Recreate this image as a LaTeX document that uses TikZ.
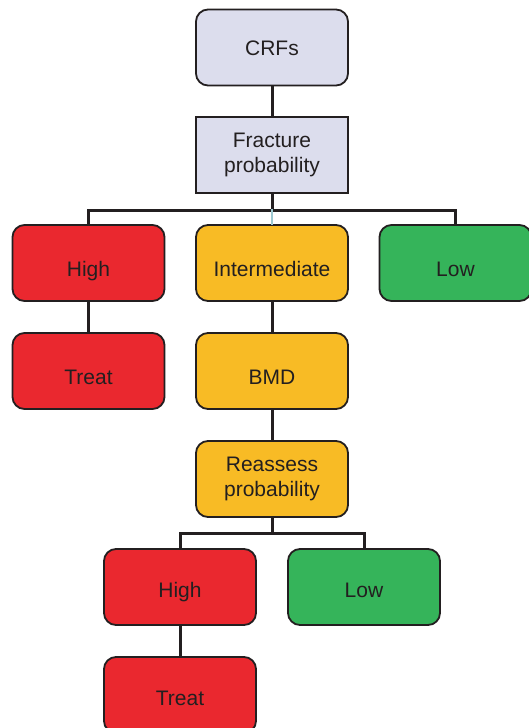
\documentclass[tikz,border=0pt]{standalone}
\usepackage{fontspec}
\setmainfont{Liberation Sans}
\definecolor{ink}{HTML}{231F20}
\definecolor{lav}{HTML}{DCDDED}
\definecolor{redbox}{HTML}{EA282F}
\definecolor{ambbox}{HTML}{F8BB25}
\definecolor{grnbox}{HTML}{35B45A}
\definecolor{thinblue}{HTML}{9CC8D0}
\tikzset{
  box/.style={draw=ink, line width=1.8pt, minimum width=152pt, minimum height=76pt,
    inner sep=0pt, outer sep=0pt, align=center, text=ink,
    font=\fontsize{21}{25}\selectfont},
  rbox/.style={box, rounded corners=12pt},
  % single-line labels sit a little below the middle of their box
  low/.style={text height=26pt, text depth=0pt},
  lowish/.style={text height=20pt, text depth=0pt},
  link/.style={draw=ink, line width=3pt},
}
\begin{document}
\begin{tikzpicture}[x=1pt, y=-1pt]
\clip (0,0) rectangle (529,728);
\fill[white] (0,0) rectangle (529,728);
% top of the tree
\node[rbox, fill=lav, text height=15pt, text depth=0pt] (crf) at (272,47.5) {CRFs};
\node[box, fill=lav] (frac) at (272,155) {Fracture\\probability};
% first split
\node[rbox, fill=redbox, low] (high) at (88.5,263) {High};
\node[rbox, fill=ambbox, low] (inter) at (272,263) {Intermediate};
\node[rbox, fill=grnbox, low] (low) at (455.5,263) {Low};
\node[rbox, fill=redbox, low] (treat) at (88.5,371) {Treat};
\node[rbox, fill=ambbox, low] (bmd) at (272,371) {BMD};
\node[rbox, fill=ambbox] (reass) at (272,479) {Reassess\\probability};
% second split
\node[rbox, fill=redbox, lowish] (high2) at (180,587) {High};
\node[rbox, fill=grnbox, lowish] (low2) at (364,587) {Low};
\node[rbox, fill=redbox, lowish] (treat2) at (180,695) {Treat};
% junction points
\coordinate (busA) at (272,210);
\coordinate (busB) at (272,533);
% connectors
\draw[link] (crf) -- (frac);
\draw[link] (frac) -- (busA);
\draw[link] (high.north) |- (busA) -| (low.north);
\draw[draw=thinblue, line width=1.5pt] ([yshift=1.5pt]busA) -- (inter.north);
\draw[link] (high) -- (treat);
\draw[link] (inter) -- (bmd);
\draw[link] (bmd) -- (reass);
\draw[link] (reass) -- (busB);
\draw[link] (high2.north) |- (busB) -| (low2.north);
\draw[link] (high2) -- (treat2);
\end{tikzpicture}
\end{document}
